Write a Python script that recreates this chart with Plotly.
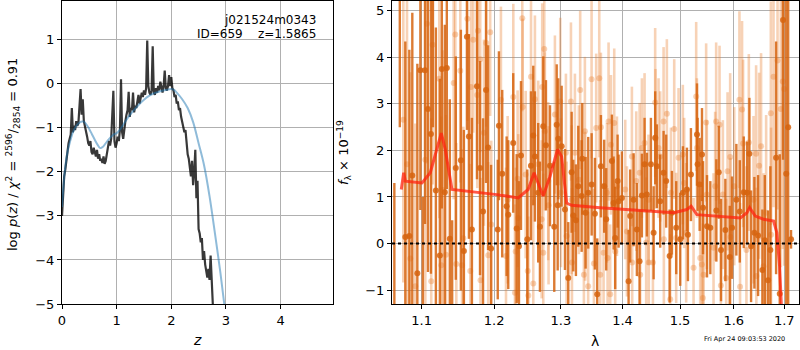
import plotly.graph_objects as go

# ---------------- left panel: log p(z) ----------------
z_grid = [0.00, 0.02, 0.04, 0.06, 0.08, 0.10, 0.12, 0.14, 0.16, 0.18, 0.20, 0.22, 0.24, 0.26, 0.28, 0.30,
          0.32, 0.34, 0.36, 0.38, 0.40, 0.42, 0.44, 0.46, 0.48, 0.50, 0.52, 0.54, 0.56, 0.58, 0.60, 0.62,
          0.64, 0.66, 0.68, 0.70, 0.72, 0.74, 0.76, 0.78, 0.80, 0.82, 0.84, 0.86, 0.88, 0.90, 0.92, 0.94,
          0.96, 0.98, 1.00, 1.02, 1.04, 1.06, 1.08, 1.10, 1.12, 1.14, 1.16, 1.18, 1.20, 1.22, 1.24, 1.26,
          1.28, 1.30, 1.32, 1.34, 1.36, 1.38, 1.40, 1.42, 1.44, 1.46, 1.48, 1.50, 1.52, 1.54, 1.56, 1.58,
          1.60, 1.62, 1.64, 1.66, 1.68, 1.70, 1.72, 1.74, 1.76, 1.78, 1.80, 1.82, 1.84, 1.86, 1.88, 1.90,
          1.92, 1.94, 1.96, 1.98, 2.00, 2.02, 2.04, 2.06, 2.08, 2.10, 2.12, 2.14, 2.16, 2.18, 2.20, 2.22,
          2.24, 2.26, 2.28, 2.30, 2.32, 2.34, 2.36, 2.38, 2.40, 2.42, 2.44, 2.46, 2.48, 2.50, 2.52, 2.54,
          2.56, 2.58, 2.60, 2.62, 2.64, 2.66, 2.68, 2.70, 2.72, 2.74, 2.76, 2.78]
logp = [-3.00, -2.35, -2.10, -1.95, -1.70, -1.55, -1.35, -1.25, -1.15, -0.55, -1.10, -0.95, -1.05, -0.85, -0.95, -0.90,
        -0.50, -0.12, -0.70, -0.35, -0.85, -0.95, -1.05, -1.20, -1.35, -1.40, -1.30, -1.55, -1.60, -1.45, -1.55, -1.65,
        -1.50, -1.70, -1.60, -1.75, -1.70, -1.80, -1.65, -1.82, -1.75, -1.55, -1.45, -1.30, -1.40, -1.25, -0.80, -0.16,
        -1.30, -1.45, -1.35, -1.20, -1.30, -1.05, 0.10, -1.10, -1.25, -0.95, -0.85, -0.70, -0.60, -0.18, -0.75, -0.55,
        -0.60, -0.20, -0.65, -0.50, -0.55, -0.40, -0.25, -0.45, -0.35, -0.20, -0.30, -0.15, -0.25, -0.10, 0.98, -0.05,
        -0.20, -0.25, -0.15, 0.85, -0.20, -0.25, -0.10, -0.20, -0.05, -0.15, 0.05, -0.10, -0.20, -0.05, 0.30, -0.10,
        -0.15, -0.05, 0.20, -0.05, 0.15, -0.10, -0.15, -0.30, -0.25, -0.45, -0.40, -0.60, -0.55, -0.75, -0.85, -0.95,
        -1.10, -1.05, -1.35, -1.60, -1.70, -1.90, -2.10, -1.75, -2.30, -2.00, -1.50, -2.60, -2.20, -3.30, -3.40, -3.60,
        -3.50, -4.00, -3.80, -4.10, -4.30, -4.40, -4.20, -4.45, -3.90, -4.60, -5.00, -5.10]

z_fit = [0.00, 0.05, 0.10, 0.15, 0.20, 0.25, 0.30, 0.35, 0.40, 0.45, 0.50, 0.55, 0.60, 0.65, 0.70, 0.75,
         0.80, 0.85, 0.90, 0.95, 1.00, 1.05, 1.10, 1.20, 1.30, 1.40, 1.50, 1.60, 1.70, 1.80, 1.90, 2.00,
         2.05, 2.10, 2.20, 2.30, 2.40, 2.50, 2.60, 2.70, 2.80, 2.90, 2.97, 3.02]
logp_fit = [-2.80, -2.00, -1.55, -1.30, -1.10, -0.98, -0.90, -0.86, -0.86, -0.93, -1.03, -1.15, -1.27, -1.38, -1.46, -1.43,
            -1.35, -1.27, -1.20, -1.15, -1.12, -1.06, -0.97, -0.78, -0.62, -0.48, -0.36, -0.27, -0.21, -0.17, -0.14, -0.12,
            -0.14, -0.20, -0.35, -0.55, -0.87, -1.35, -1.85, -2.55, -3.40, -4.30, -5.00, -5.50]

# ---------------- right panel: spectrum ----------------
# dark (primary) points
wl_a = [1.0645, 1.0715, 1.0786, 1.0838, 1.0877, 1.0943, 1.0983, 1.1015, 1.1044, 1.1083, 1.1123, 1.1150, 1.1189,
        1.1243, 1.1269, 1.1310, 1.1337, 1.1378, 1.1410, 1.1460, 1.1530, 1.1572, 1.1614, 1.1642, 1.1684, 1.1755,
        1.1798, 1.1841, 1.1884, 1.1913, 1.1956,
        1.2052, 1.2069, 1.2117, 1.2181, 1.2205, 1.2278, 1.2329, 1.2363, 1.2393, 1.2487, 1.2542, 1.2577, 1.2602,
        1.2652, 1.2678, 1.2729, 1.2770, 1.2832, 1.2898, 1.2936, 1.2951, 1.2960, 1.3013, 1.3065, 1.3117, 1.3170,
        1.3196, 1.3238, 1.3275, 1.3329, 1.3339, 1.3393, 1.3435, 1.3490, 1.3543, 1.3581,
        1.3641, 1.3695, 1.3728, 1.3822, 1.3850, 1.3877, 1.3917, 1.3934, 1.3989, 1.4102, 1.4129, 1.4187, 1.4243,
        1.4289, 1.4329, 1.4375, 1.4415, 1.4485, 1.4532, 1.4560, 1.4589, 1.4647, 1.4707, 1.4753, 1.4814, 1.4855,
        1.4932, 1.5004, 1.5053, 1.5125, 1.5143, 1.5198, 1.5309, 1.5320, 1.5358,
        1.5401, 1.5420, 1.5494, 1.5556, 1.5669, 1.5714, 1.5757, 1.5839, 1.5923, 1.5967, 1.6050, 1.6116, 1.6193,
        1.6258, 1.6303, 1.6336, 1.6401, 1.6474, 1.6559, 1.6607, 1.6673, 1.6719, 1.6834, 1.6908, 1.6975, 1.7040,
        1.7080, 1.7139]
flux_a = [-2.00, 6.50, 0.14, 0.16, 1.46, -0.64, 3.72, -3.00, 3.72, 2.89, 2.35, 6.00, 1.14,
          -0.26, 3.75, 1.10, 3.77, 0.10, -2.50, 1.62, 1.79, -0.16, 4.44, 2.30, 0.30, 3.38,
          1.62, 0.69, 3.30, 2.06, -0.11,
          0.30, 2.53, 1.50, 0.80, 0.62, 2.16, 0.32, -0.06, 1.89, 0.09, 1.67, 2.32, 1.87,
          1.09, 0.36, 2.52, 2.11, 1.67, 0.36, 2.55, 0.82, 2.25, 2.09, 0.73, -0.74, 1.53,
          0.60, 0.50, 1.23, 1.02, 1.82, 0.66, 1.09, 1.27, 0.64, -1.09,
          1.66, 1.23, 0.52, 1.77, 0.87, 0.12, 1.34, 0.91, 0.98, -0.81, 0.59, 0.94, 0.30,
          -0.38, 1.03, 1.70, 1.05, 1.70, 0.23, 2.27, 1.66, 0.91, 1.52, 1.34, -0.27, 0.66,
          0.34, 0.09, 1.09, 1.16, 0.19, 1.48, 2.34, 1.70, 1.27,
          1.91, 0.77, 0.37, 0.34, 0.71, 1.53, -0.14, 0.29, -0.29, 0.34, 0.94, 0.69, 1.10,
          1.09, 1.93, -0.06, 0.23, 0.17, -0.57, 0.07, -0.79, -0.14, 1.84, -1.08, 4.80, 1.50,
          2.50, 0.09]
err_a = [3.3, 4.0, 4.2, 4.0, 3.5, 4.5, 3.0, 4.0, 3.3, 3.5, 3.0, 3.5, 3.5,
         3.8, 3.0, 3.6, 2.6, 3.0, 3.0, 2.4, 2.8, 2.6, 2.0, 2.2, 2.4, 2.0,
         2.3, 2.0, 2.0, 2.2, 1.8,
         1.5, 1.6, 1.8, 1.5, 1.6, 1.5, 1.6, 1.4, 1.6, 1.5, 1.6, 1.5, 1.4,
         1.5, 1.4, 1.5, 1.4, 1.3, 1.4, 1.3, 1.4, 1.3, 1.3, 1.3, 1.2, 1.3,
         1.2, 1.2, 1.3, 1.2, 1.2, 1.2, 1.2, 1.1, 1.2, 1.2,
         1.1, 1.0, 1.1, 1.0, 1.0, 1.1, 1.0, 1.0, 1.0, 1.1, 1.0, 1.0, 1.0,
         1.1, 0.9, 1.0, 0.9, 1.0, 1.0, 1.0, 0.9, 1.0, 0.9, 1.0, 1.0, 0.9,
         1.0, 1.0, 1.0, 0.9, 1.0, 1.0, 1.1, 1.0, 1.0,
         1.0, 1.0, 1.1, 1.0, 1.1, 1.0, 1.1, 1.1, 1.1, 1.1, 1.2, 1.1, 1.2,
         1.1, 1.2, 1.2, 1.2, 1.3, 1.3, 1.4, 1.5, 1.8, 2.5, 3.0, 3.0, 3.8,
         4.0, 0.2]

# light (secondary) points
wl_b = [1.0760, 1.0808, 1.0851, 1.0916, 1.1048, 1.1070, 1.1127, 1.1145, 1.1235, 1.1262, 1.1281, 1.1326, 1.1431,
        1.1453, 1.1467, 1.1522, 1.1546, 1.1564, 1.1620, 1.1661, 1.1671, 1.1703, 1.1759, 1.1769, 1.1801, 1.1805,
        1.1854, 1.1886, 1.1915, 1.1943, 1.1958,
        1.2098, 1.2172, 1.2196, 1.2279, 1.2303, 1.2314, 1.2343, 1.2352, 1.2412, 1.2418, 1.2463, 1.2494, 1.2503,
        1.2543, 1.2577, 1.2602, 1.2652, 1.2704, 1.2713, 1.2729, 1.2744, 1.2754, 1.2805, 1.2810, 1.2908, 1.2991,
        1.3002, 1.3080, 1.3091, 1.3159, 1.3170, 1.3175, 1.3222, 1.3285, 1.3306, 1.3365, 1.3381, 1.3386, 1.3434,
        1.3489, 1.3527, 1.3564, 1.3614,
        1.3630, 1.3641, 1.3685, 1.3740, 1.3751, 1.3767, 1.3794, 1.3806, 1.3861, 1.3877, 1.3906, 1.4045, 1.4074,
        1.4158, 1.4163, 1.4232, 1.4290, 1.4300, 1.4329, 1.4375, 1.4403, 1.4443, 1.4448, 1.4520, 1.4559, 1.4565,
        1.4618, 1.4647, 1.4707, 1.4712, 1.4765, 1.4825, 1.4837, 1.4896, 1.4931, 1.4974, 1.5051, 1.5075, 1.5111,
        1.5246, 1.5294, 1.5307,
        1.5368, 1.5399, 1.5417, 1.5430, 1.5478, 1.5491, 1.5616, 1.5646, 1.5665, 1.5729, 1.5754, 1.5792, 1.5855,
        1.5881, 1.5931, 1.5937, 1.6009, 1.6109, 1.6121, 1.6160, 1.6180, 1.6245, 1.6292, 1.6384, 1.6435, 1.6440,
        1.6494, 1.6533, 1.6582, 1.6634, 1.6728, 1.6733, 1.6782, 1.6863, 1.6929, 1.6970, 1.6997]
flux_b = [2.66, 1.70, -0.32, -0.92, 1.80, 4.72, -0.81, 4.27, 3.54, -0.47, 1.15, -0.24, 3.45,
          4.49, -0.44, 3.71, -0.47, 0.11, 4.83, -0.59, 3.36, 4.38, 3.19, 4.57, 3.96, -0.79,
          2.38, 4.31, -0.25, 4.54, 0.41,
          3.09, -0.27, 0.94, 3.15, -1.06, -0.17, 1.39, 0.55, 4.84, 2.93, 1.48, -0.59, -1.12,
          3.58, -0.86, 3.10, 1.70, 0.52, 3.36, -0.20, 4.18, 2.41, 1.34, 0.82, 2.77, 3.05,
          1.09, 1.95, 0.16, 3.05, 0.94, -0.41, 1.95, 1.37, 3.30, -0.67, 2.41, 0.80, -0.92,
          3.53, -0.43, 2.48, 3.55,
          -0.67, 2.50, -0.20, 1.09, -0.31, 2.62, -1.09, 2.12, 2.59, -0.17, 1.23, 1.16, 0.26,
          1.87, -0.41, 1.34, 1.52, -0.67, 2.05, 2.16, 0.02, 0.94, -0.41, -0.41, 3.03, 2.25,
          2.05, 1.87, 2.62, 0.09, 2.79, -1.20, 1.09, 2.46, 0.12, 1.84, 1.91, 1.30, 0.23,
          -0.52, 3.16, 2.05,
          -0.31, -0.45, -1.17, -0.67, 2.60, 1.05, -0.09, 1.23, 2.62, 2.55, -0.90, 1.05, -0.74,
          1.55, 1.86, 0.14, 1.23, 3.09, -0.93, 2.88, 2.15, -0.14, 2.17, 0.94, 1.93, -0.70,
          1.67, 2.09, -0.49, 0.66, 2.80, 0.19, 3.58, 3.93, 2.89, 3.48, 3.32]
err_b = [3.5, 3.8, 4.0, 3.5, 3.5, 3.0, 3.5, 3.0, 3.0, 3.2, 3.0, 3.0, 2.5,
         2.5, 2.6, 2.4, 2.5, 2.4, 2.2, 2.3, 2.2, 2.0, 2.0, 2.0, 2.0, 2.2,
         2.0, 1.8, 2.0, 1.8, 1.8,
         2.0, 1.9, 1.8, 2.0, 1.9, 1.8, 1.9, 1.8, 2.0, 1.9, 1.8, 1.8, 1.7,
         1.9, 1.8, 1.8, 1.8, 1.7, 1.8, 1.7, 1.8, 1.7, 1.7, 1.7, 1.7, 1.8,
         1.6, 1.7, 1.6, 1.7, 1.6, 1.6, 1.7, 1.6, 1.7, 1.6, 1.6, 1.6, 1.6,
         1.7, 1.6, 1.6, 1.7,
         1.6, 1.6, 1.5, 1.5, 1.5, 1.7, 1.5, 1.5, 1.6, 1.5, 1.5, 1.5, 1.4,
         1.5, 1.4, 1.5, 1.5, 1.4, 1.5, 1.5, 1.4, 1.4, 1.4, 1.4, 1.6, 1.5,
         1.5, 1.4, 1.6, 1.4, 1.6, 1.4, 1.4, 1.5, 1.4, 1.5, 1.5, 1.4, 1.5,
         1.5, 1.6, 1.5,
         1.5, 1.5, 1.6, 1.5, 1.7, 1.6, 1.6, 1.6, 1.7, 1.7, 1.6, 1.6, 1.7,
         1.7, 1.8, 1.7, 1.7, 1.9, 1.8, 1.9, 1.8, 1.8, 1.9, 1.8, 1.9, 1.9,
         2.0, 2.0, 2.0, 2.1, 2.4, 2.3, 2.8, 3.2, 3.4, 3.6, 3.8]

# best-fit model
wl_model = [1.0734, 1.0765, 1.0786, 1.1004, 1.1114, 1.1262, 1.1316, 1.1407, 1.2040, 1.2351, 1.2500, 1.2590,
            1.2727, 1.2832, 1.2949, 1.3012, 1.3091, 1.3170, 1.3628, 1.4890, 1.5124, 1.5202, 1.5306, 1.6127,
            1.6255, 1.6308, 1.6418, 1.6584, 1.6784, 1.6850, 1.6905, 1.6951, 1.6990]
flux_model = [1.16, 1.52, 1.34, 1.30, 1.52, 2.37, 2.02, 1.16, 1.05, 0.98, 1.16, 1.52,
              1.02, 1.44, 2.02, 1.87, 0.87, 0.82, 0.77, 0.66, 0.73, 0.80, 0.62, 0.55,
              0.66, 0.77, 0.59, 0.52, 0.48, 0.23, -0.49, -1.31, -2.50]

lam_ticks = [1.1, 1.2, 1.3, 1.4, 1.5, 1.6, 1.7]
lam_ticktext = ["1.1", "1.2", "1.3", "1.4", "1.5", "1.6", "1.7"]

FONT = "DejaVu Sans"
W, H = 800, 350
TOP, BOT = 1, 304  # plot area pixel rows


def px(x):
    return x / W


def py(y):
    return (BOT - y) / (BOT - TOP)


fig = go.Figure()

# left panel
fig.add_trace(go.Scatter(x=z_grid, y=logp, mode="lines", xaxis="x", yaxis="y",
                         line=dict(color="rgba(0,0,0,0.78)", width=2.2), showlegend=False))
fig.add_trace(go.Scatter(x=z_fit, y=logp_fit, mode="lines", xaxis="x", yaxis="y",
                         line=dict(color="rgba(31,119,180,0.5)", width=2, shape="spline"), showlegend=False))

# right panel
light = "rgba(232,125,45,0.35)"
dark = "rgba(214,100,15,0.85)"
fig.add_trace(go.Scatter(x=wl_b, y=flux_b, mode="markers", xaxis="x2", yaxis="y2",
                         marker=dict(color=light, size=6, line=dict(width=0)),
                         error_y=dict(type="data", array=err_b, color=light, thickness=2.6, width=0),
                         showlegend=False))
fig.add_trace(go.Scatter(x=wl_a, y=flux_a, mode="markers", xaxis="x2", yaxis="y2",
                         marker=dict(color=dark, size=6, line=dict(width=0)),
                         error_y=dict(type="data", array=err_a, color=dark, thickness=2.4, width=0),
                         showlegend=False))
fig.add_trace(go.Scatter(x=wl_model, y=flux_model, mode="lines", xaxis="x2", yaxis="y2",
                         line=dict(color="rgba(255,35,15,0.75)", width=3), showlegend=False))

fig.add_shape(type="line", xref="x2 domain", yref="y2", x0=0, x1=1, y0=0, y1=0,
              line=dict(color="black", width=2, dash="dot"), layer="above")

axis_common = dict(showline=True, mirror=True, linecolor="black", linewidth=1,
                   ticks="outside", ticklen=4, tickcolor="black", tickwidth=1,
                   showgrid=True, gridcolor="#b0b0b0", gridwidth=1, zeroline=False,
                   automargin=False,
                   tickfont=dict(family=FONT, size=13, color="black"))

fig.update_layout(
    width=W, height=H,
    margin=dict(l=0, r=0, t=TOP, b=H - BOT, autoexpand=False),
    plot_bgcolor="white", paper_bgcolor="white",
    font=dict(family=FONT, color="black"),
    xaxis=dict(domain=[px(62), px(333)], range=[0, 4.96], tickvals=[0, 1, 2, 3, 4],
               anchor="y", **axis_common),
    yaxis=dict(domain=[0, 1], range=[-5, 1.88], tickvals=[-5, -4, -3, -2, -1, 0, 1],
               anchor="x", **axis_common),
    xaxis2=dict(domain=[px(392), px(799)], type="log", range=[0.02592, 0.23813],
                tickvals=lam_ticks, ticktext=lam_ticktext, anchor="y2", **axis_common),
    yaxis2=dict(domain=[0, 1], range=[-1.30, 5.21], tickvals=[-1, 0, 1, 2, 3, 4, 5],
                anchor="x2", **axis_common),
)

ann = [
    dict(text="j021524m0343", x=px(318), y=py(20), xanchor="right", yanchor="middle", size=12),
    dict(text="ID=659\u00a0\u00a0\u00a0\u00a0z=1.5865", x=px(318), y=py(34), xanchor="right", yanchor="middle", size=12),
    dict(text="<i>z</i>", x=px(197), y=py(340), xanchor="center", yanchor="middle", size=14),
    dict(text="λ", x=px(595), y=py(341), xanchor="center", yanchor="middle", size=14),
    dict(text="Fri Apr 24 09:03:53 2020", x=px(744), y=py(339), xanchor="center", yanchor="middle", size=6.5),
]
for a in ann:
    fig.add_annotation(text=a["text"], x=a["x"], y=a["y"], xref="paper", yref="paper",
                       xanchor=a["xanchor"], yanchor=a["yanchor"], showarrow=False,
                       font=dict(family=FONT, size=a["size"], color="black"))

fig.add_annotation(text="log <i>p</i>(<i>z</i>) / <i>χ</i><sup>2</sup> = <sup>2596</sup>/<sub>2854</sub> = 0.91",
                   x=px(13), y=py(155), xref="paper", yref="paper", textangle=-90,
                   xanchor="center", yanchor="middle", showarrow=False,
                   font=dict(family=FONT, size=13, color="black"))
fig.add_annotation(text="<i>f</i><sub>λ</sub> × 10<sup>−19</sup>",
                   x=px(344), y=py(153), xref="paper", yref="paper", textangle=-90,
                   xanchor="center", yanchor="middle", showarrow=False,
                   font=dict(family=FONT, size=13, color="black"))

fig.write_html("out.html")
